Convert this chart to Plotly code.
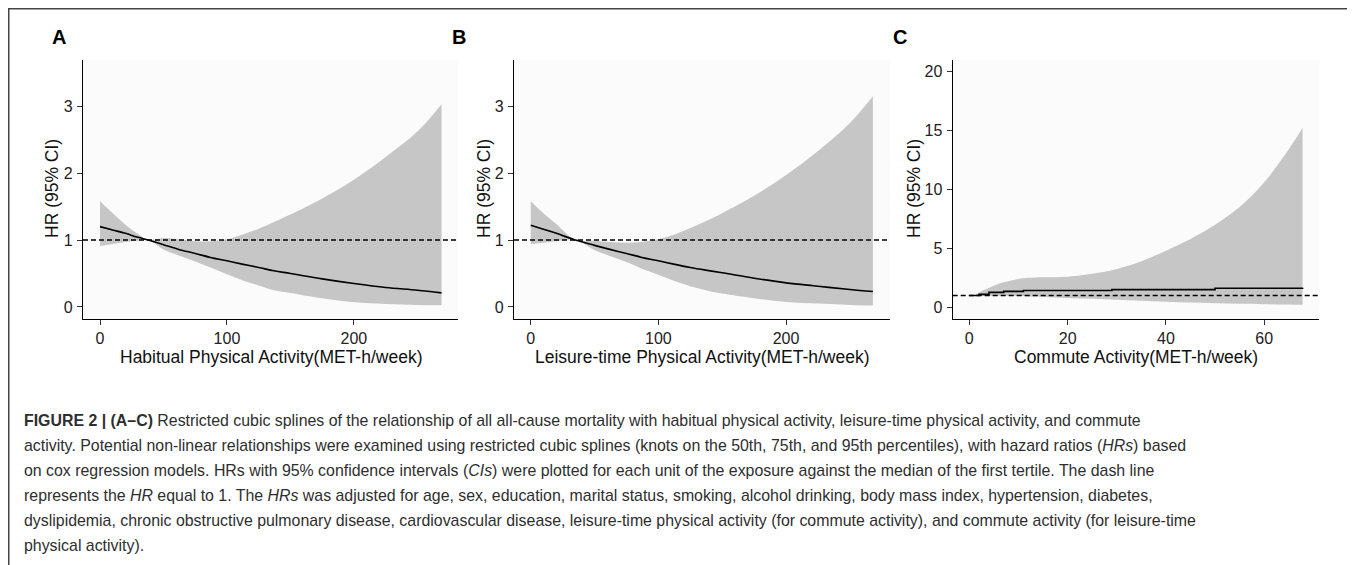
import plotly.graph_objects as go

OFF = 8  # default page body margin in the written html
W, H = 1355 - OFF, 565 - OFF

# ---------------- data ----------------
# Panel A: Habitual physical activity
a_x = [0, 10, 20, 30, 38, 50, 62, 75, 87, 100, 112, 125, 137, 150, 175, 200, 225, 250, 269]
a_hr = [1.20, 1.15, 1.10, 1.04, 1.00, 0.93, 0.86, 0.80, 0.74, 0.69, 0.64, 0.59, 0.54, 0.50, 0.42, 0.35, 0.29, 0.25, 0.21]
a_up = [1.58, 1.40, 1.23, 1.09, 1.00, 1.03, 1.01, 0.98, 0.98, 1.01, 1.08, 1.17, 1.27, 1.38, 1.62, 1.90, 2.24, 2.62, 3.03]
a_lo = [0.91, 0.94, 0.97, 0.99, 1.00, 0.86, 0.77, 0.68, 0.59, 0.49, 0.40, 0.32, 0.25, 0.21, 0.13, 0.07, 0.045, 0.03, 0.025]

# Panel B: Leisure-time physical activity
b_x = [0, 10, 20, 35, 50, 62, 75, 87, 100, 112, 125, 137, 150, 175, 200, 225, 250, 268]
b_hr = [1.22, 1.16, 1.10, 1.00, 0.92, 0.86, 0.80, 0.74, 0.69, 0.64, 0.59, 0.55, 0.51, 0.43, 0.36, 0.31, 0.26, 0.23]
b_up = [1.58, 1.40, 1.24, 1.00, 0.99, 0.97, 0.96, 0.97, 1.01, 1.08, 1.18, 1.28, 1.40, 1.66, 1.97, 2.33, 2.75, 3.15]
b_lo = [0.94, 0.96, 0.98, 1.00, 0.85, 0.76, 0.67, 0.57, 0.48, 0.39, 0.31, 0.25, 0.20, 0.13, 0.075, 0.05, 0.03, 0.02]

# Panel C: Commute activity
c_x = [1, 2, 4, 6, 8, 10, 12, 15, 20, 25, 30, 35, 40, 45, 50, 55, 60, 64, 67.8]
c_up = [1.0, 1.25, 1.65, 2.0, 2.2, 2.4, 2.5, 2.55, 2.6, 2.85, 3.25, 3.9, 4.8, 5.8, 7.0, 8.5, 10.6, 12.8, 15.2]
c_lo = [1.0, 0.98, 0.97, 0.97, 0.97, 0.95, 0.92, 0.88, 0.80, 0.72, 0.64, 0.56, 0.48, 0.41, 0.35, 0.30, 0.26, 0.23, 0.21]
c_hr_x = [0, 2, 4, 7, 11, 29, 50, 67.8]
c_hr = [1.0, 1.1, 1.27, 1.35, 1.42, 1.5, 1.62, 1.65]

ref_hr = 1

panel_letters = ["A", "B", "C"]
x_titles = ["Habitual Physical Activity(MET-h/week)",
            "Leisure-time Physical Activity(MET-h/week)",
            "Commute Activity(MET-h/week)"]
y_title = "HR (95% CI)"
x_ticks_ab = [0, 100, 200]
y_ticks_ab = [0, 1, 2, 3]
x_ticks_c = [0, 20, 40, 60]
y_ticks_c = [0, 5, 10, 15, 20]

caption_lines = [
    "<b>FIGURE 2 | (A–C)</b> Restricted cubic splines of the relationship of all all-cause mortality with habitual physical activity, leisure-time physical activity, and commute",
    "activity. Potential non-linear relationships were examined using restricted cubic splines (knots on the 50th, 75th, and 95th percentiles), with hazard ratios (<i>HRs</i>) based",
    "on cox regression models. HRs with 95% confidence intervals (<i>CIs</i>) were plotted for each unit of the exposure against the median of the first tertile. The dash line",
    "represents the <i>HR</i> equal to 1. The <i>HRs</i> was adjusted for age, sex, education, marital status, smoking, alcohol drinking, body mass index, hypertension, diabetes,",
    "dyslipidemia, chronic obstructive pulmonary disease, cardiovascular disease, leisure-time physical activity (for commute activity), and commute activity (for leisure-time",
    "physical activity).",
]

# ---------------- helpers (page pixel -> paper fraction) ----------------
def px(x):
    return (x - OFF) / W

def py(y):
    return 1 - (y - OFF) / H

FILL = "#c6c6c6"
SANS = "Liberation Sans, Arial, sans-serif"
AX_FONT = dict(family=SANS, size=16, color="#222222")
TITLE_FONT = dict(family=SANS, size=17.5, color="#111111")

fig = go.Figure()

panels = [
    dict(x=a_x, hr_x=a_x, hr=a_hr, up=a_up, lo=a_lo, shape="spline",
         dom=(83, 458), xr=[-13.4, 282], yr=[-0.18, 3.69], xt=x_ticks_ab, yt=y_ticks_ab),
    dict(x=b_x, hr_x=b_x, hr=b_hr, up=b_up, lo=b_lo, shape="spline",
         dom=(514, 890), xr=[-13.1, 281.4], yr=[-0.18, 3.69], xt=x_ticks_ab, yt=y_ticks_ab),
    dict(x=c_x, hr_x=c_hr_x, hr=c_hr, up=c_up, lo=c_lo, shape="hv",
         dom=(952.7, 1319.3), xr=[-3.38, 71.2], yr=[-0.99, 20.96], xt=x_ticks_c, yt=y_ticks_c),
]

PLOT_TOP, PLOT_BOT = 60, 319
letter_x = [59, 459, 900]
ytitle_x = [52, 484, 914]

for i, p in enumerate(panels):
    n = "" if i == 0 else str(i + 1)
    xa, ya = "x" + n, "y" + n
    fig.add_trace(go.Scatter(x=p["x"], y=p["lo"], mode="lines", line=dict(width=0, shape="spline"),
                             xaxis=xa, yaxis=ya, showlegend=False, hoverinfo="skip"))
    fig.add_trace(go.Scatter(x=p["x"], y=p["up"], mode="lines", line=dict(width=0, shape="spline"),
                             fill="tonexty", fillcolor=FILL,
                             xaxis=xa, yaxis=ya, showlegend=False, hoverinfo="skip"))
    fig.add_trace(go.Scatter(x=p["hr_x"], y=p["hr"], mode="lines",
                             line=dict(color="black", width=1.6, shape=p["shape"]),
                             xaxis=xa, yaxis=ya, showlegend=False))
    fig.add_shape(type="line", xref=xa + " domain", yref=ya, x0=0, x1=1, y0=ref_hr, y1=ref_hr,
                  line=dict(color="black", width=1.4, dash="5px,3px"), layer="above")

    axis_common = dict(showline=True, linecolor="black", linewidth=1.2, ticks="outside",
                       ticklen=5, tickwidth=1, tickcolor="#333333", showgrid=False,
                       zeroline=False, tickfont=AX_FONT)
    fig.update_layout(**{
        ("xaxis" + n): dict(domain=[px(p["dom"][0]), px(p["dom"][1])], range=p["xr"],
                            tickvals=p["xt"], anchor=ya, **axis_common),
        ("yaxis" + n): dict(domain=[py(PLOT_BOT), py(PLOT_TOP)], range=p["yr"],
                            tickvals=p["yt"], anchor=xa, ticklabelstandoff=1, **axis_common),
    })

    # panel letter
    fig.add_annotation(xref="paper", yref="paper", x=px(letter_x[i]), y=py(37),
                       text="<b>%s</b>" % panel_letters[i], showarrow=False,
                       font=dict(family=SANS, size=20, color="black"),
                       xanchor="center", yanchor="middle")
    # x title
    fig.add_annotation(xref="paper", yref="paper", x=(px(p["dom"][0]) + px(p["dom"][1])) / 2, y=py(357),
                       text=x_titles[i], showarrow=False, font=TITLE_FONT,
                       xanchor="center", yanchor="middle")
    # y title
    fig.add_annotation(xref="paper", yref="paper", x=px(ytitle_x[i]), y=py(189),
                       text=y_title, showarrow=False, font=TITLE_FONT, textangle=-90,
                       xanchor="center", yanchor="middle")

# caption
CAP_FONT = dict(family=SANS, size=15.9, color="#2e2e2e")
for k, line in enumerate(caption_lines):
    fig.add_annotation(xref="paper", yref="paper", x=px(22), y=py(420 + 25 * k),
                       text=line, showarrow=False, font=CAP_FONT,
                       xanchor="left", yanchor="middle", align="left")

# frame lines (top and left)
fig.add_shape(type="line", xref="paper", yref="paper", x0=0, x1=1, y0=1, y1=1,
              line=dict(color="#444444", width=3))
fig.add_shape(type="line", xref="paper", yref="paper", x0=0, x1=0, y0=0, y1=1,
              line=dict(color="#444444", width=3))

fig.update_layout(width=W, height=H, margin=dict(l=0, r=0, t=0, b=0),
                  paper_bgcolor="white", plot_bgcolor="#fbfbfb", showlegend=False)

fig.write_html("out.html")
